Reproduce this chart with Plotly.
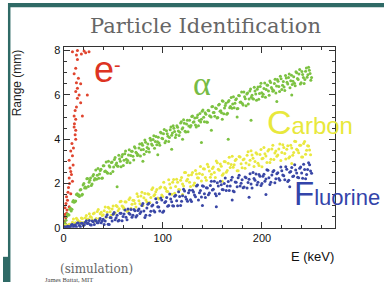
import plotly.graph_objects as go

# ---------------- data ----------------
electron_E = [0.5, 1, 1.5, 1, 2, 1.5, 2.3, 3, 2.5, 3.5, 4, 3, 5.7, 4.5, 7.3, 5, 6, 9, 5.7, 8,
              7.3, 6.5, 9.7, 5.7, 9, 7.3, 10, 8.5, 12.3, 11.7, 12.3, 10.7, 11, 12.3, 10.7, 19,
              11.7, 13, 17.3, 14, 15.7, 24, 12.3, 14, 17.3, 13, 15, 10.7, 12.3, 14, 13, 9, 14,
              20.7, 22.3, 25.7, 18]
electron_R = [0.1, 0.3, 0.2, 0.6, 0.5, 0.9, 0.45, 0.66, 1.1, 0.8, 1.24, 1.4, 0.95, 1.6, 1.53,
              1.82, 2.0, 2.1, 2.25, 2.4, 2.54, 2.7, 2.83, 3.05, 3.25, 3.47, 3.6, 3.8, 4.0, 4.2,
              4.4, 4.55, 4.7, 4.9, 5.05, 5.05, 5.3, 5.45, 5.65, 5.85, 6.0, 6.0, 6.15, 6.3, 6.5,
              6.55, 6.75, 6.95, 7.2, 7.6, 7.8, 7.95, 8.0, 7.98, 7.9, 7.95, 7.85]

alpha_E_a = [1, 2.5, 4, 5.5, 7, 8.5, 10, 11.5, 13, 14.5, 16, 17.5, 19, 20.5, 22, 23.5, 25, 26.5, 28, 29.5,
             31, 32.5, 34, 35.5, 37, 38.5, 40, 41.5, 43, 44.5, 46, 47.5, 49, 50.5, 52, 53.5, 55, 56.5, 58, 59.5,
             61, 62.5, 64, 65.5, 67, 68.5, 70, 71.5, 73, 74.5, 76, 77.5, 79, 80.5, 82, 83.5, 85, 86.5, 88, 89.5,
             91, 92.5, 94, 95.5, 97, 98.5, 100, 101.5, 103, 104.5, 106, 107.5, 109, 110.5, 112, 113.5, 115, 116.5, 118, 119.5,
             121, 122.5, 124, 125.5, 127, 128.5, 130, 131.5, 133, 134.5, 136, 137.5, 139, 140.5, 142, 143.5, 145, 146.5, 148, 149.5,
             151, 152.5, 154, 155.5, 157, 158.5, 160, 161.5, 163, 164.5, 166, 167.5, 169, 170.5, 172, 173.5, 175, 176.5, 178, 179.5,
             181, 182.5, 184, 185.5, 187, 188.5, 190, 191.5, 193, 194.5, 196, 197.5, 199, 200.5, 202, 203.5, 205, 206.5, 208, 209.5,
             211, 212.5, 214, 215.5, 217, 218.5, 220, 221.5, 223, 224.5, 226, 227.5, 229, 230.5, 232, 233.5, 235, 236.5, 238, 239.5,
             241, 242.5, 244, 245.5, 247, 248.5, 250,
             54, 61, 109, 139, 149, 166, 189, 120, 175, 215, 230, 160, 95, 80]
alpha_R_a = [0.22, 0.34, 0.62, 0.58, 0.88, 0.83, 1.23, 1.19, 1.50, 1.46, 1.41, 1.73, 1.51, 2.00, 1.84, 2.21, 1.86, 2.15, 1.91, 2.34,
             2.16, 2.61, 2.37, 2.24, 2.58, 2.23, 2.80, 2.54, 2.97, 2.46, 2.80, 2.45, 2.97, 2.74, 3.17, 2.92, 2.78, 3.11, 2.75, 3.31,
             3.05, 3.47, 2.95, 3.29, 2.94, 3.46, 3.23, 3.66, 3.41, 3.26, 3.60, 3.24, 3.80, 3.53, 3.96, 3.44, 3.78, 3.42, 3.95, 3.72,
             4.15, 3.89, 3.75, 4.09, 3.73, 4.28, 4.02, 4.44, 3.92, 4.25, 3.90, 4.42, 4.18, 4.61, 4.35, 4.20, 4.54, 4.17, 4.73, 4.46,
             4.88, 4.36, 4.69, 4.33, 4.86, 4.62, 5.05, 4.79, 4.64, 4.98, 4.61, 5.16, 4.90, 5.32, 4.79, 5.12, 4.76, 5.28, 5.04, 5.46,
             5.20, 5.03, 5.39, 4.98, 5.58, 5.28, 5.74, 5.15, 5.52, 5.12, 5.69, 5.42, 5.88, 5.59, 5.42, 5.78, 5.37, 5.97, 5.67, 6.13,
             5.54, 5.91, 5.51, 6.08, 5.81, 6.27, 5.98, 5.81, 6.17, 5.76, 6.36, 6.06, 6.52, 5.93, 6.29, 5.89, 6.45, 6.17, 6.63, 6.33,
             6.16, 6.51, 6.09, 6.69, 6.38, 6.84, 6.24, 6.60, 6.20, 6.76, 6.49, 6.94, 6.64, 6.47, 6.82, 6.41, 7.00, 6.69, 7.15, 6.55,
             6.92, 6.51, 7.07, 6.80, 7.25, 6.96, 6.78,
             1.85, 0.85, 3.55, 3.85, 4.4, 4.0, 4.85, 4.0, 5.0, 5.7, 6.0, 4.9, 3.3, 3.0]

alpha_E_b = [1.75, 3.25, 4.75, 6.25, 7.75, 9.25, 10.75, 12.25, 13.75, 15.25, 16.75, 18.25, 19.75, 21.25, 22.75, 24.25, 25.75, 27.25, 28.75, 30.25,
             31.75, 33.25, 34.75, 36.25, 37.75, 39.25, 40.75, 42.25, 43.75, 45.25, 46.75, 48.25, 49.75, 51.25, 52.75, 54.25, 55.75, 57.25, 58.75, 60.25,
             61.75, 63.25, 64.75, 66.25, 67.75, 69.25, 70.75, 72.25, 73.75, 75.25, 76.75, 78.25, 79.75, 81.25, 82.75, 84.25, 85.75, 87.25, 88.75, 90.25,
             91.75, 93.25, 94.75, 96.25, 97.75, 99.25, 100.75, 102.25, 103.75, 105.25, 106.75, 108.25, 109.75, 111.25, 112.75, 114.25, 115.75, 117.25, 118.75, 120.25,
             121.75, 123.25, 124.75, 126.25, 127.75, 129.25, 130.75, 132.25, 133.75, 135.25, 136.75, 138.25, 139.75, 141.25, 142.75, 144.25, 145.75, 147.25, 148.75, 150.25,
             151.75, 153.25, 154.75, 156.25, 157.75, 159.25, 160.75, 162.25, 163.75, 165.25, 166.75, 168.25, 169.75, 171.25, 172.75, 174.25, 175.75, 177.25, 178.75, 180.25,
             181.75, 183.25, 184.75, 186.25, 187.75, 189.25, 190.75, 192.25, 193.75, 195.25, 196.75, 198.25, 199.75, 201.25, 202.75, 204.25, 205.75, 207.25, 208.75, 210.25,
             211.75, 213.25, 214.75, 216.25, 217.75, 219.25, 220.75, 222.25, 223.75, 225.25, 226.75, 228.25, 229.75, 231.25, 232.75, 234.25, 235.75, 237.25, 238.75, 240.25,
             241.75, 243.25, 244.75, 246.25, 247.75, 249.25]
alpha_R_b = [0.17, 0.51, 0.59, 0.84, 0.76, 1.17, 1.15, 1.21, 1.54, 1.49, 1.71, 1.47, 1.93, 1.80, 1.80, 2.22, 2.06, 2.25, 1.98, 2.41,
             2.22, 2.19, 2.68, 2.43, 2.64, 2.25, 2.80, 2.56, 2.51, 3.00, 2.74, 2.95, 2.54, 3.08, 2.84, 2.79, 3.27, 3.00, 3.21, 2.81,
             3.34, 3.09, 3.04, 3.52, 3.26, 3.46, 3.06, 3.60, 3.36, 3.30, 3.78, 3.52, 3.73, 3.32, 3.86, 3.62, 3.57, 4.04, 3.78, 3.99,
             3.59, 4.12, 3.88, 3.83, 4.31, 4.04, 4.25, 3.84, 4.38, 4.13, 4.08, 4.55, 4.28, 4.49, 4.08, 4.61, 4.37, 4.31, 4.79, 4.52,
             4.72, 4.32, 4.85, 4.60, 4.55, 5.02, 4.76, 4.96, 4.55, 5.09, 4.84, 4.78, 5.26, 4.99, 5.19, 4.78, 5.31, 5.06, 5.00, 5.47,
             5.20, 5.41, 4.96, 5.54, 5.26, 5.19, 5.71, 5.41, 5.62, 5.17, 5.75, 5.47, 5.40, 5.92, 5.62, 5.83, 5.38, 5.96, 5.68, 5.61,
             6.13, 5.83, 6.04, 5.59, 6.17, 5.89, 5.82, 6.34, 6.04, 6.25, 5.80, 6.38, 6.10, 6.03, 6.54, 6.24, 6.44, 5.98, 6.56, 6.27,
             6.20, 6.71, 6.40, 6.61, 6.15, 6.73, 6.44, 6.36, 6.88, 6.57, 6.78, 6.32, 6.89, 6.61, 6.53, 7.05, 6.74, 6.94, 6.49, 7.06,
             6.78, 6.70, 7.21, 6.91, 7.11, 6.66]

carbon_E_a = [1, 3, 5, 7, 9, 11, 13, 15, 17, 19, 21, 23, 25, 27, 29, 31, 33, 35, 37, 39,
              41, 43, 45, 47, 49, 51, 53, 55, 57, 59, 61, 63, 65, 67, 69, 71, 73, 75, 77, 79,
              81, 83, 85, 87, 89, 91, 93, 95, 97, 99, 101, 103, 105, 107, 109, 111, 113, 115, 117, 119,
              121, 123, 125, 127, 129, 131, 133, 135, 137, 139, 141, 143, 145, 147, 149, 151, 153, 155, 157, 159,
              161, 163, 165, 167, 169, 171, 173, 175, 177, 179, 181, 183, 185, 187, 189, 191, 193, 195, 197, 199,
              201, 203, 205, 207, 209, 211, 213, 215, 217, 219, 221, 223, 225, 227, 229, 231, 233, 235, 237, 239,
              241, 243, 245, 247, 249,
              120, 160, 200, 230]
carbon_R_a = [0.10, 0.05, 0.14, 0.07, 0.25, 0.13, 0.43, 0.30, 0.26, 0.42,
              0.22, 0.55, 0.40, 0.51, 0.36, 0.67, 0.42, 0.82, 0.63, 0.55,
              0.77, 0.47, 0.93, 0.72, 0.85, 0.64, 1.01, 0.77, 1.17, 0.98,
              0.88, 1.16, 0.76, 1.35, 1.06, 1.23, 0.94, 1.41, 1.08, 1.60,
              1.35, 1.25, 1.53, 1.14, 1.73, 1.44, 1.62, 1.34, 1.80, 1.48,
              2.06, 1.76, 1.64, 1.97, 1.51, 2.18, 1.86, 2.05, 1.72, 2.27,
              1.89, 2.49, 2.19, 2.06, 2.39, 1.92, 2.59, 2.26, 2.45, 2.11,
              2.66, 2.27, 2.87, 2.56, 2.42, 2.74, 2.27, 2.93, 2.60, 2.78,
              2.44, 2.98, 2.58, 3.18, 2.86, 2.73, 3.04, 2.57, 3.22, 2.89,
              3.07, 2.69, 3.27, 2.84, 3.48, 3.14, 2.99, 3.33, 2.81, 3.53,
              3.14, 3.34, 2.95, 3.53, 3.09, 3.73, 3.38, 3.23, 3.56, 3.04,
              3.75, 3.35, 3.54, 3.15, 3.72, 3.27, 3.91, 3.55, 3.39, 3.72,
              3.19, 3.89, 3.50, 3.69, 3.30,
              1.5, 2.1, 2.75, 2.9]

carbon_E_b = [2, 4, 6, 8, 10, 12, 14, 16, 18, 20, 22, 24, 26, 28, 30, 32, 34, 36, 38, 40,
              42, 44, 46, 48, 50, 52, 54, 56, 58, 60, 62, 64, 66, 68, 70, 72, 74, 76, 78, 80,
              82, 84, 86, 88, 90, 92, 94, 96, 98, 100, 102, 104, 106, 108, 110, 112, 114, 116, 118, 120,
              122, 124, 126, 128, 130, 132, 134, 136, 138, 140, 142, 144, 146, 148, 150, 152, 154, 156, 158, 160,
              162, 164, 166, 168, 170, 172, 174, 176, 178, 180, 182, 184, 186, 188, 190, 192, 194, 196, 198, 200,
              202, 204, 206, 208, 210, 212, 214, 216, 218, 220, 222, 224, 226, 228, 230, 232, 234, 236, 238, 240,
              242, 244, 246, 248]
carbon_R_b = [0.11, 0.03, 0.16, 0.14, 0.39, 0.23, 0.36, 0.14, 0.44, 0.24,
              0.45, 0.38, 0.63, 0.47, 0.63, 0.30, 0.73, 0.42, 0.70, 0.59,
              0.94, 0.70, 0.88, 0.56, 0.98, 0.67, 0.96, 0.86, 1.20, 0.95,
              1.17, 0.74, 1.28, 0.88, 1.24, 1.09, 1.53, 1.22, 1.43, 1.01,
              1.55, 1.16, 1.51, 1.37, 1.81, 1.50, 1.73, 1.30, 1.84, 1.41,
              1.82, 1.65, 2.17, 1.81, 2.06, 1.56, 2.19, 1.73, 2.14, 1.97,
              2.49, 2.12, 2.37, 1.86, 2.49, 2.02, 2.43, 2.25, 2.77, 2.40,
              2.65, 2.14, 2.76, 2.28, 2.68, 2.50, 3.01, 2.64, 2.88, 2.37,
              2.99, 2.51, 2.91, 2.72, 3.23, 2.85, 3.09, 2.57, 3.19, 2.71,
              3.11, 2.92, 3.43, 3.05, 3.29, 2.77, 3.39, 2.91, 3.31, 3.12,
              3.62, 3.24, 3.47, 2.95, 3.56, 3.08, 3.47, 3.28, 3.78, 3.40,
              3.62, 3.10, 3.70, 3.21, 3.60, 3.40, 3.89, 3.50, 3.73, 3.20,
              3.80, 3.32, 3.70, 3.51]

fluorine_E_a = [2, 4, 6, 8, 10, 12, 14, 16, 18, 20, 22, 24, 26, 28, 30, 32, 34, 36, 38, 40,
                42, 44, 46, 48, 50, 52, 54, 56, 58, 60, 62, 64, 66, 68, 70, 72, 74, 76, 78, 80,
                82, 84, 86, 88, 90, 92, 94, 96, 98, 100, 102, 104, 106, 108, 110, 112, 114, 116, 118, 120,
                122, 124, 126, 128, 130, 132, 134, 136, 138, 140, 142, 144, 146, 148, 150, 152, 154, 156, 158, 160,
                162, 164, 166, 168, 170, 172, 174, 176, 178, 180, 182, 184, 186, 188, 190, 192, 194, 196, 198, 200,
                202, 204, 206, 208, 210, 212, 214, 216, 218, 220, 222, 224, 226, 228, 230, 232, 234, 236, 238, 240,
                242, 244, 246, 248, 250,
                154, 187, 204, 170, 228, 140]
fluorine_R_a = [0.03, 0.07, 0.05, 0.14, 0.04, 0.14, 0.22, 0.10, 0.20, 0.10,
                0.25, 0.19, 0.33, 0.12, 0.27, 0.35, 0.23, 0.33, 0.23, 0.38,
                0.30, 0.59, 0.15, 0.45, 0.61, 0.36, 0.56, 0.34, 0.65, 0.51,
                0.80, 0.36, 0.66, 0.82, 0.57, 0.77, 0.55, 0.85, 0.72, 1.10,
                0.46, 0.89, 1.11, 0.75, 1.03, 0.71, 1.14, 0.94, 1.34, 0.70,
                1.14, 1.37, 1.01, 1.30, 0.99, 1.42, 1.22, 1.63, 1.00, 1.44,
                1.66, 1.29, 1.58, 1.26, 1.69, 1.48, 1.89, 1.25, 1.68, 1.90,
                1.53, 1.81, 1.49, 1.91, 1.70, 2.10, 1.45, 1.89, 2.10, 1.73,
                2.00, 1.68, 2.09, 1.88, 2.28, 1.63, 2.06, 2.26, 1.89, 2.17,
                1.84, 2.26, 2.04, 2.44, 1.79, 2.22, 2.43, 2.05, 2.33, 2.00,
                2.42, 2.20, 2.60, 1.95, 2.38, 2.58, 2.21, 2.48, 2.15, 2.57,
                2.35, 2.75, 2.09, 2.51, 2.72, 2.34, 2.61, 2.28, 2.69, 2.47,
                2.87, 2.21, 2.63, 2.84, 2.46,
                0.95, 1.38, 1.5, 1.25, 1.85, 1.0]

fluorine_E_b = [1, 3, 5, 7, 9, 11, 13, 15, 17, 19, 21, 23, 25, 27, 29, 31, 33, 35, 37, 39,
                41, 43, 45, 47, 49, 51, 53, 55, 57, 59, 61, 63, 65, 67, 69, 71, 73, 75, 77, 79,
                81, 83, 85, 87, 89, 91, 93, 95, 97, 99, 101, 103, 105, 107, 109, 111, 113, 115, 117, 119,
                121, 123, 125, 127, 129, 131, 133, 135, 137, 139, 141, 143, 145, 147, 149, 151, 153, 155, 157, 159,
                161, 163, 165, 167, 169, 171, 173, 175, 177, 179, 181, 183, 185, 187, 189, 191, 193, 195, 197, 199,
                201, 203, 205, 207, 209, 211, 213, 215, 217, 219, 221, 223, 225, 227, 229, 231, 233, 235, 237, 239,
                241, 243, 245, 247, 249]
fluorine_R_b = [0.05, 0.02, 0.06, 0.04, 0.15, 0.10, 0.04, 0.21, 0.05, 0.20,
                0.13, 0.32, 0.20, 0.14, 0.31, 0.15, 0.30, 0.23, 0.42, 0.30,
                0.15, 0.50, 0.16, 0.46, 0.31, 0.69, 0.45, 0.31, 0.66, 0.32,
                0.62, 0.47, 0.85, 0.61, 0.47, 0.82, 0.48, 0.78, 0.64, 1.01,
                0.76, 0.57, 1.06, 0.57, 0.98, 0.77, 1.31, 0.95, 0.76, 1.25,
                0.76, 1.18, 0.97, 1.52, 1.17, 0.98, 1.47, 0.99, 1.41, 1.20,
                1.74, 1.39, 1.20, 1.69, 1.19, 1.61, 1.40, 1.93, 1.58, 1.39,
                1.87, 1.37, 1.79, 1.57, 2.10, 1.74, 1.54, 2.03, 1.53, 1.94,
                1.72, 2.25, 1.89, 1.68, 2.16, 1.66, 2.07, 1.85, 2.37, 2.01,
                1.81, 2.29, 1.79, 2.19, 1.97, 2.50, 2.14, 1.94, 2.41, 1.91,
                2.32, 2.10, 2.62, 2.26, 2.06, 2.53, 2.03, 2.44, 2.22, 2.74,
                2.38, 2.17, 2.64, 2.14, 2.54, 2.31, 2.84, 2.47, 2.26, 2.74,
                2.23, 2.63, 2.41, 2.93, 2.56]

x_ticks = [0, 100, 200]
y_ticks = [0, 2, 4, 6, 8]

# ---------------- figure ----------------
W, H = 384, 288


def px(x):
    return x / W


def py(y):
    return 1 - y / H


fig = go.Figure()
series = [
    (electron_E, electron_R, "#e0452f"),
    (alpha_E_a, alpha_R_a, "#7cc242"),
    (alpha_E_b, alpha_R_b, "#7cc242"),
    (carbon_E_a, carbon_R_a, "#e9e840"),
    (carbon_E_b, carbon_R_b, "#e9e840"),
    (fluorine_E_a, fluorine_R_a, "#3a47a6"),
    (fluorine_E_b, fluorine_R_b, "#3a47a6"),
]
for ex, ry, col in series:
    fig.add_trace(go.Scatter(x=ex, y=ry, mode="markers",
                             marker=dict(size=3, color=col, line=dict(width=0)),
                             hoverinfo="skip"))

axis_common = dict(
    ticks="inside", ticklen=6, tickcolor="#333", tickwidth=1,
    linecolor="#333", linewidth=1, mirror="allticks",
    showgrid=False, zeroline=False,
    tickfont=dict(family="Liberation Sans, Arial, sans-serif", size=11, color="#111"),
)

fig.update_layout(
    width=W, height=H,
    margin=dict(l=0, r=0, t=0, b=0),
    paper_bgcolor="white", plot_bgcolor="white",
    showlegend=False,
    xaxis=dict(domain=[61 / W, 335 / W], range=[0, 274],
               tickmode="array", tickvals=x_ticks,
               minor=dict(dtick=20, tick0=0, ticks="inside", ticklen=3, tickcolor="#333", showgrid=False),
               **axis_common),
    yaxis=dict(domain=[py(232), py(45.7)], range=[0, 8.15],
               tickmode="array", tickvals=y_ticks,
               minor=dict(dtick=0.5, tick0=0, ticks="inside", ticklen=3, tickcolor="#333", showgrid=False),
               **axis_common),
)

teal = "#2f6a66"
fig.add_shape(type="rect", xref="paper", yref="paper", x0=px(6), x1=1, y0=py(4.5), y1=1,
              fillcolor=teal, line=dict(width=0), layer="above")
fig.add_shape(type="rect", xref="paper", yref="paper", x0=px(5), x1=px(7.5), y0=0, y1=1,
              fillcolor=teal, line=dict(width=0), layer="above")
fig.add_shape(type="rect", xref="paper", yref="paper", x0=0, x1=px(6), y0=0, y1=py(262),
              fillcolor=teal, line=dict(width=0), layer="above")

sans = "Liberation Sans, Arial, sans-serif"
serif = "DejaVu Serif, serif"


def note(text, x, y, size, color, family=sans, xanchor="left", yanchor="bottom", angle=0):
    fig.add_annotation(text=text, xref="paper", yref="paper", x=px(x), y=py(y),
                       xanchor=xanchor, yanchor=yanchor, showarrow=False, textangle=angle,
                       borderpad=0, font=dict(family=family, size=size, color=color))


note("Particle Identification", 204, 24, 21, "#666666", family=serif, xanchor="center", yanchor="middle")
note("Range (mm)", 15, 82, 12, "#222222", xanchor="center", yanchor="middle", angle=-90)
note("E (keV)", 312, 262, 13, "#111111", xanchor="center", yanchor="middle")
note("(simulation)", 94, 275, 12, "#666666", family=serif, xanchor="center", yanchor="middle")
note("James Battat, MIT", 67, 285, 6.5, "#444444", family="Liberation Serif, serif", xanchor="center", yanchor="middle")

note("e", 90.5, 90.6, 36, "#dd3322")
note("-", 111, 76.4, 20, "#dd3322")
note("\u03b1", 190, 103, 34, "#77bb44", family="Liberation Serif, serif")
note("<span style='font-size:34px'>C</span>arbon", 265, 143.5, 24, "#e8e83c")
note("<span style='font-size:33px'>F</span>luorine", 292, 216.5, 22, "#3344aa")

fig.write_html("out.html", config={"displayModeBar": False, "staticPlot": True},
               post_script="document.body.style.margin='0px';")
